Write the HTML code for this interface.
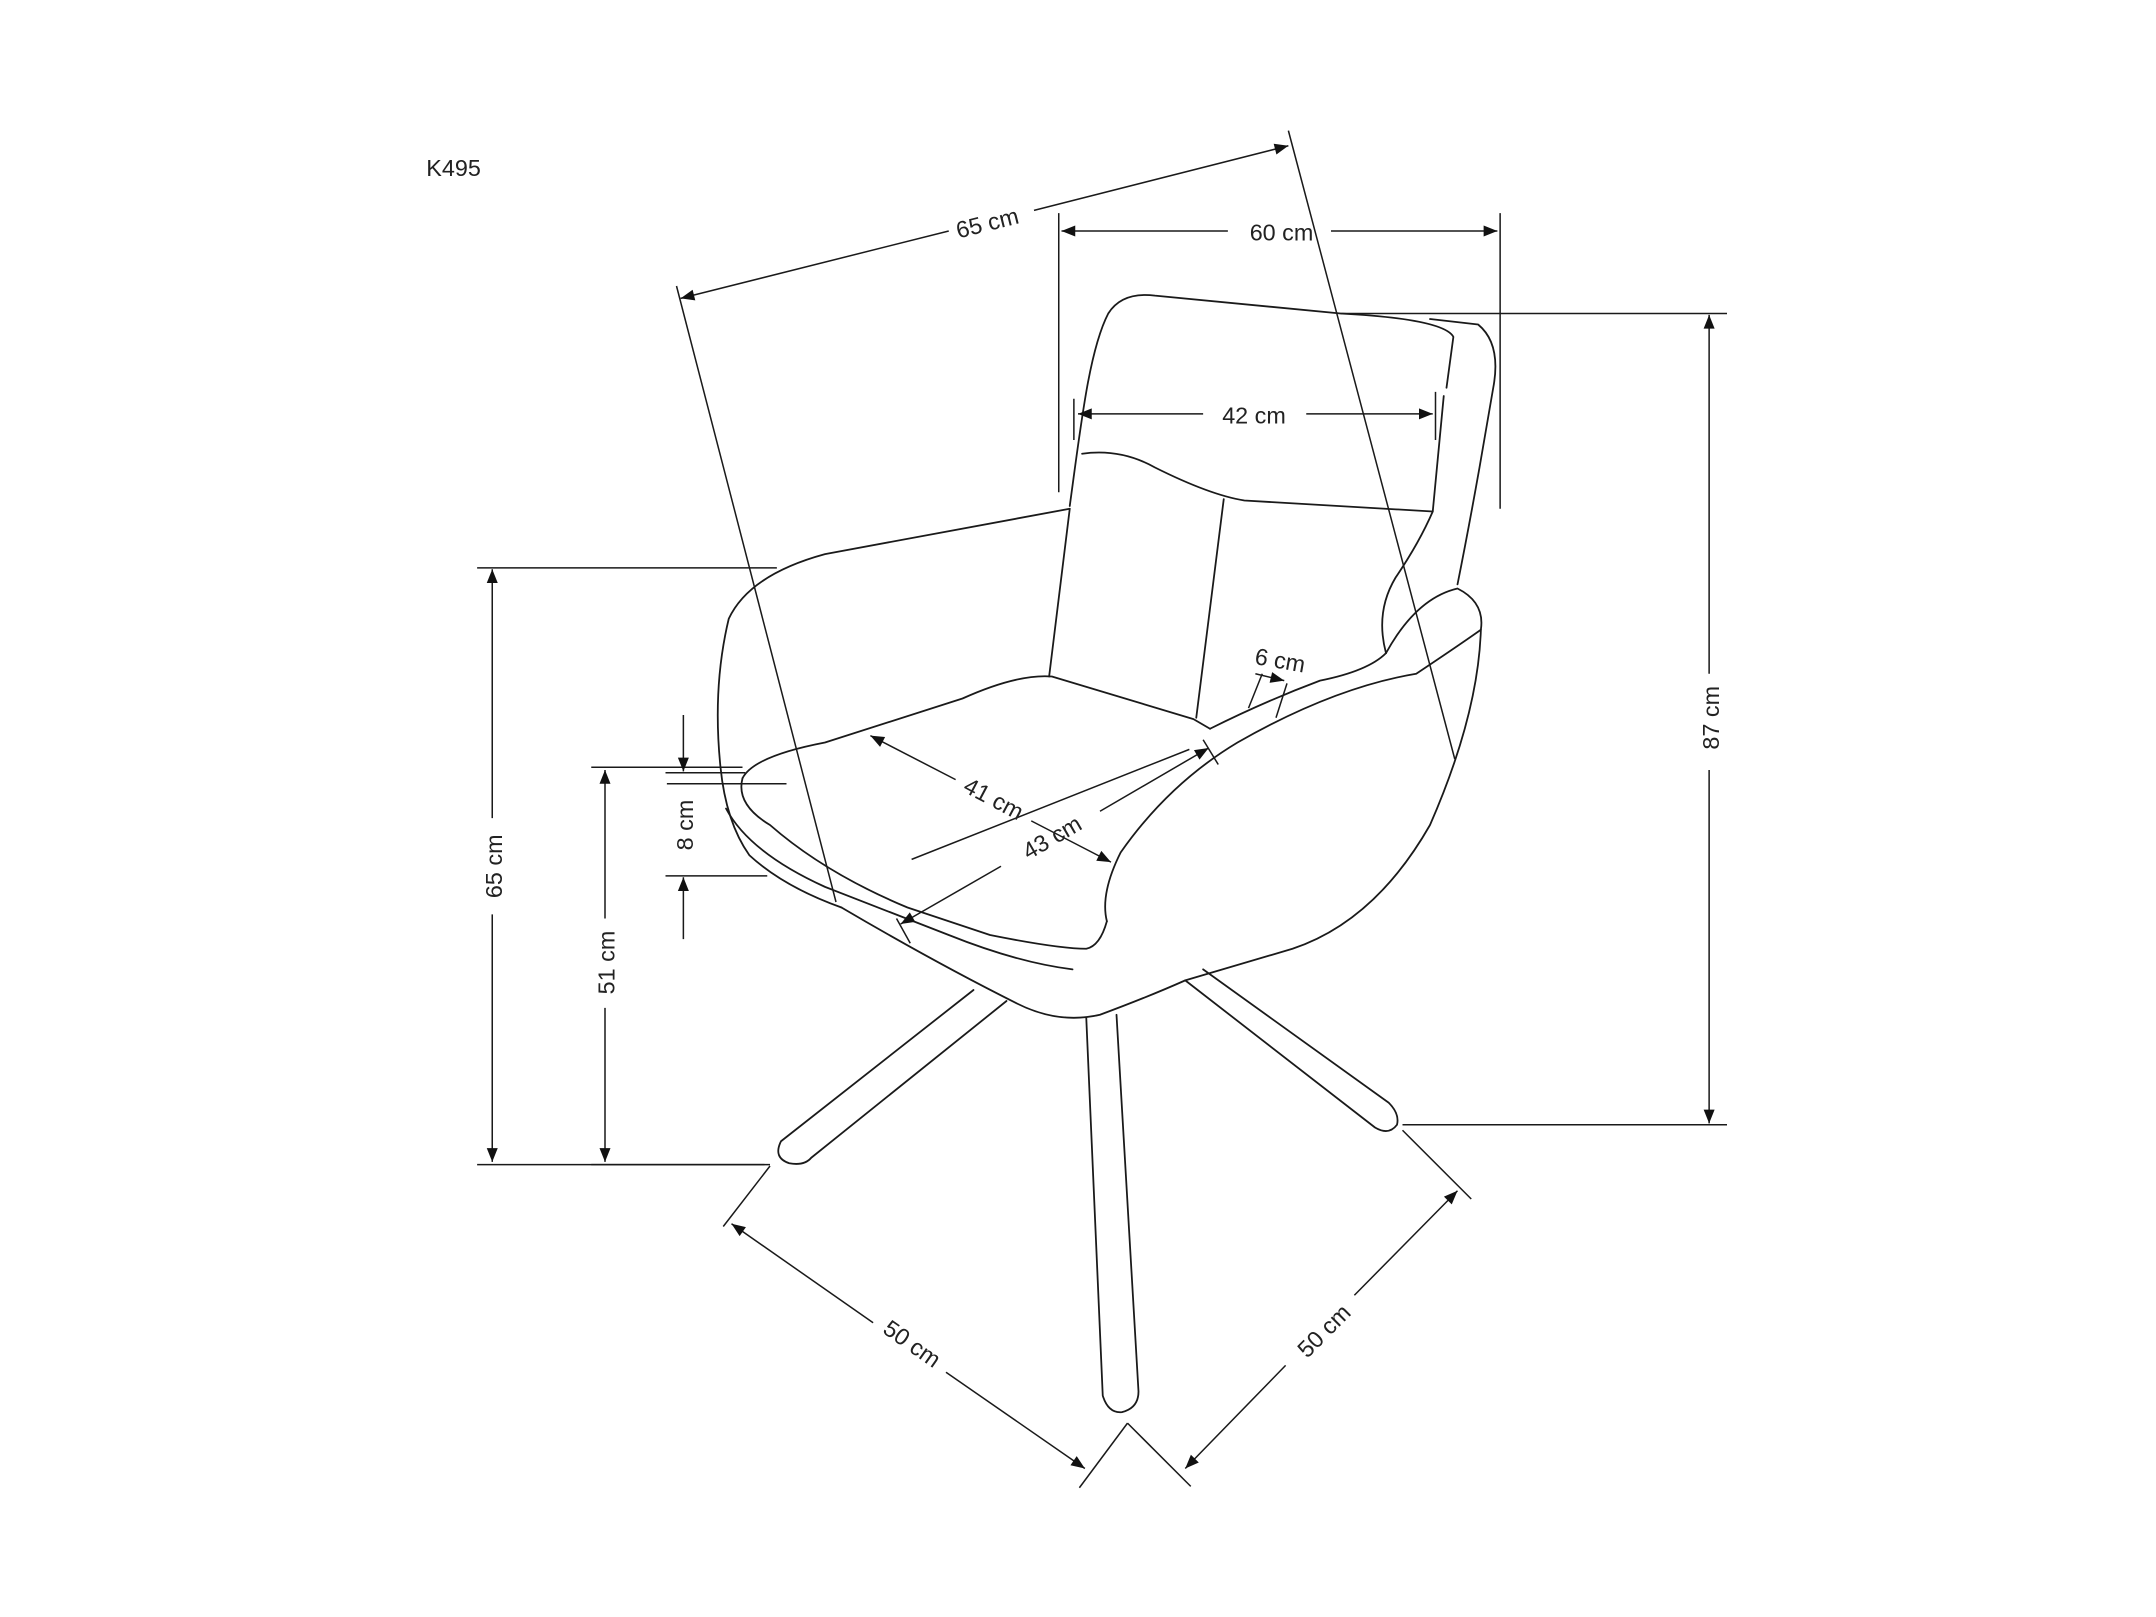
<!DOCTYPE html>
<html><head><meta charset="utf-8"><style>
html,body{margin:0;padding:0;background:#fff;}
svg{display:block;}
text{font-family:"Liberation Sans",Arial,sans-serif;font-size:17px;fill:#222;}
</style></head><body>
<svg width="2156" height="1617" viewBox="0 0 1568 1176" xmlns="http://www.w3.org/2000/svg">
<defs>
<marker id="a" viewBox="0 0 10 10" refX="10" refY="5" markerWidth="14" markerHeight="10" markerUnits="userSpaceOnUse" orient="auto-start-reverse">
<path d="M0,1 L10,5 L0,9 z" fill="#111"/></marker>
</defs>
<g fill="none" stroke="#1a1a1a" stroke-width="1.3" stroke-linejoin="round" stroke-linecap="round">
<path d="M778,368 C786,310 792,255 806,228 Q816,212 840,215 L975,228 Q1050,232 1057,245 L1052,282"/>
<path d="M1040,232 L1075,236 Q1092,250 1086,282 L1076,340 Q1068,385 1060,425"/>
<path d="M787,330 Q815,326 840,340 Q880,360 905,364 L1042,372"/>
<path d="M1050,288 L1042,372 Q1032,395 1015,420 Q1000,445 1008,475"/>
<path d="M890,363 L870,522"/>
<path d="M778,370 L763,492"/>
<path d="M778,370 L600,403 Q545,418 530,450 Q518,500 524,558 Q528,598 545,622 Q570,645 612,660"/>
<path d="M540,566 Q548,550 600,540 L700,508 Q740,490 765,492 L868,523 L880,530"/>
<path d="M540,566 Q535,585 560,600 Q600,635 660,660 L720,680 Q770,690 790,690 Q800,688 805,670"/>
<path d="M528,588 Q545,620 600,645 L690,680 Q740,700 780,705"/>
<path d="M1008,475 Q1030,435 1060,428 Q1080,438 1077,458 Q1060,470 1030,490 Q970,500 900,540 Q850,570 815,620 Q800,650 805,670"/>
<path d="M1077,458 Q1075,520 1040,600 Q1000,670 940,690 L862,713"/>
<path d="M880,530 Q920,510 960,495 Q995,488 1008,475"/>
<path d="M612,660 Q680,700 740,730 Q770,745 800,738 Q835,725 862,713"/>
<path d="M708,720 L568,830 Q562,842 574,846 Q585,848 590,842 L732,728"/>
<path d="M790,740 L802,1015 Q806,1028 816,1027 Q828,1024 828,1012 L812,738"/>
<path d="M862,713 L1000,820 Q1010,826 1016,818 Q1018,810 1010,802 L875,705"/>
</g>
<g fill="none" stroke="#1a1a1a" stroke-width="1.1">
<line x1="495" y1="217" x2="690" y2="168" marker-start="url(#a)"/>
<line x1="752" y1="153" x2="937" y2="106" marker-end="url(#a)"/>
<line x1="492" y1="208" x2="608" y2="656"/>
<line x1="937" y1="95" x2="1058" y2="552"/>
<line x1="772" y1="168" x2="893" y2="168" marker-start="url(#a)"/>
<line x1="968" y1="168" x2="1089" y2="168" marker-end="url(#a)"/>
<line x1="770" y1="155" x2="770" y2="358"/>
<line x1="1091" y1="155" x2="1091" y2="370"/>
<line x1="784" y1="301" x2="875" y2="301" marker-start="url(#a)"/>
<line x1="950" y1="301" x2="1042" y2="301" marker-end="url(#a)"/>
<line x1="781" y1="290" x2="781" y2="320"/>
<line x1="1044" y1="285" x2="1044" y2="320"/>
<line x1="1243" y1="229" x2="1243" y2="490" marker-start="url(#a)"/>
<line x1="1243" y1="560" x2="1243" y2="817" marker-end="url(#a)"/>
<line x1="975" y1="228" x2="1256" y2="228"/>
<line x1="1020" y1="818" x2="1256" y2="818"/>
<line x1="358" y1="414" x2="358" y2="595" marker-start="url(#a)"/>
<line x1="358" y1="665" x2="358" y2="845" marker-end="url(#a)"/>
<line x1="347" y1="413" x2="565" y2="413"/>
<line x1="347" y1="847" x2="560" y2="847"/>
<line x1="440" y1="560" x2="440" y2="668" marker-start="url(#a)"/>
<line x1="440" y1="733" x2="440" y2="845" marker-end="url(#a)"/>
<line x1="430" y1="558" x2="540" y2="558"/>
<line x1="430" y1="847" x2="556" y2="847"/>
<line x1="497" y1="520" x2="497" y2="561" marker-end="url(#a)"/>
<line x1="497" y1="683" x2="497" y2="638" marker-end="url(#a)"/>
<line x1="484" y1="562" x2="542" y2="562"/>
<line x1="484" y1="637" x2="558" y2="637"/>
<line x1="485" y1="570" x2="572" y2="570"/>
<line x1="633" y1="535" x2="695" y2="567" marker-start="url(#a)"/>
<line x1="750" y1="597" x2="808" y2="627" marker-end="url(#a)"/>
<line x1="655" y1="672" x2="728" y2="630" marker-start="url(#a)"/>
<line x1="800" y1="590" x2="879" y2="544" marker-end="url(#a)"/>
<line x1="663" y1="625" x2="865" y2="545"/>
<line x1="652" y1="668" x2="662" y2="686"/>
<line x1="875" y1="538" x2="886" y2="556"/>
<line x1="908" y1="515" x2="918" y2="490"/>
<line x1="928" y1="522" x2="936" y2="497"/>
<line x1="913" y1="490" x2="934" y2="495" marker-end="url(#a)"/>
<line x1="532" y1="890" x2="635" y2="962" marker-start="url(#a)"/>
<line x1="688" y1="998" x2="789" y2="1068" marker-end="url(#a)"/>
<line x1="526" y1="892" x2="560" y2="848"/>
<line x1="785" y1="1082" x2="820" y2="1035"/>
<line x1="862" y1="1068" x2="935" y2="993" marker-start="url(#a)"/>
<line x1="985" y1="942" x2="1060" y2="866" marker-end="url(#a)"/>
<line x1="820" y1="1035" x2="866" y2="1081"/>
<line x1="1020" y1="822" x2="1070" y2="872"/>
</g>
<text x="310" y="128">K495</text>
<text x="718" y="168" text-anchor="middle" transform="rotate(-14 718 162)">65 cm</text>
<text x="932" y="175" text-anchor="middle">60 cm</text>
<text x="912" y="308" text-anchor="middle">42 cm</text>
<text x="0" y="0" text-anchor="middle" transform="translate(1250,522) rotate(-90)">87 cm</text>
<text x="0" y="0" text-anchor="middle" transform="translate(365,630) rotate(-90)">65 cm</text>
<text x="0" y="0" text-anchor="middle" transform="translate(447,700) rotate(-90)">51 cm</text>
<text x="0" y="0" text-anchor="middle" transform="translate(504,600) rotate(-90)">8 cm</text>
<text x="0" y="0" text-anchor="middle" transform="translate(720,586) rotate(28)">41 cm</text>
<text x="0" y="0" text-anchor="middle" transform="translate(768,614) rotate(-30)">43 cm</text>
<text x="0" y="0" text-anchor="middle" transform="translate(930,486) rotate(10)">6 cm</text>
<text x="0" y="0" text-anchor="middle" transform="translate(660,982) rotate(35)">50 cm</text>
<text x="0" y="0" text-anchor="middle" transform="translate(967,972) rotate(-45)">50 cm</text>
</svg>
</body></html>
